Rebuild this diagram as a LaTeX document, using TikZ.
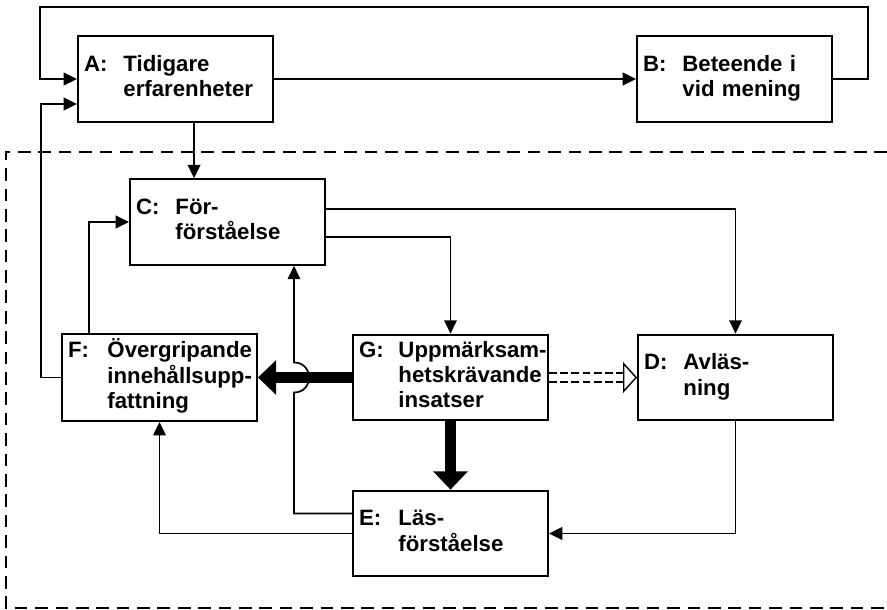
\documentclass[tikz,border=0pt]{standalone}
\usepackage{fontspec}
\setmainfont{Liberation Sans}
\usetikzlibrary{arrows.meta,calc}
\newcommand{\lab}[2]{\makebox[28pt][l]{#1:}\begin{tabular}[t]{@{}l@{}}#2\end{tabular}}

\begin{document}
\begin{tikzpicture}[x=0.025cm,y=-0.025cm]
	\tikzstyle{every node}=[font=\fontsize{15.8}{18}\selectfont\bfseries]
	\tikzstyle{box}=[draw,line width=1.4pt,text width=130pt,inner xsep=4.3pt,minimum height=61pt,align=left]
	\tikzstyle{arr}=[line width=1.2pt,-{Triangle[length=9.5pt,width=9pt]}]
	\tikzstyle{fat}=[line width=8.5pt,-{Triangle[length=13pt,width=24pt]}]
	\tikzstyle{dbl}=[double,double distance=5.2pt,line width=1pt,dash pattern=on 5.5pt off 2.5pt,-{Triangle[open,length=10pt,width=22pt]}]
	\useasboundingbox (0,0) rectangle (887,610);
	% boxes
	\node[box] (A) at (175.5,79) {\lab{A}{Tidigare\\erfarenheter}};
	\node[box] (B) at (734.5,79) {\lab{B}{Beteende i\\vid mening}};
	\node[box] (C) at (227.5,222) {\lab{C}{För-\\förståelse}};
	\node[box] (F) at (159.5,377.5) {\lab{F}{Övergripande\\innehållsupp-\\fattning}};
	\node[box] (G) at (450.5,377.5) {\lab{G}{Uppmärksam-\\hetskrävande\\insatser}};
	\node[box] (D) at (735.5,377.5) {\lab{D}{Avläs-\\ning}};
	\node[box] (E) at (450.5,533.5) {\lab{E}{Läs-\\förståelse}};
	% dashed frame
	\draw[line width=1.2pt,dash pattern=on 9pt off 5.5pt] (887,152) -- (6,152) -- (6,608) -- (887,608);
	% outer loop
	\coordinate (tr) at (868,7);
	\coordinate (tl) at (40,7);
	\draw[arr] (A.east) -- (B.west);
	\draw[arr] (B.east) -| (tr) -- (tl) |- (A.west);
	\draw[arr] (F.west) -- ++(-20,0) |- ($(A.west)+(0,25)$);
	\coordinate (ac) at ($(C.north west)+(65,0)$);
	\draw[arr] (ac |- A.south) -- (ac);
	\draw[arr] ($(C.east)+(0,-13)$) -| (D.north);
	\draw[arr] ($(C.east)+(0,15)$) -| (G.north);
	\draw[arr] ($(F.north west)+(28,0)$) |- (C.west);
	% hop over the thick arrow
	\coordinate (hop) at (294,377.5);
	\draw[arr] ($(E.west)+(0,-20)$) -| ($(hop)+(0,15)$) .. controls +(20,0) and +(20,0) .. ($(hop)+(0,-15)$) -- (hop |- C.south);
	\draw[arr] (E.west) -| (F.south);
	\draw[arr] (D.south) |- (E.east);
	\draw[fat] (G.west) -- (F.east);
	\draw[fat] (G.south) -- (E.north);
	\draw[dbl] (G.east) -- (D.west);
\end{tikzpicture}
\end{document}
